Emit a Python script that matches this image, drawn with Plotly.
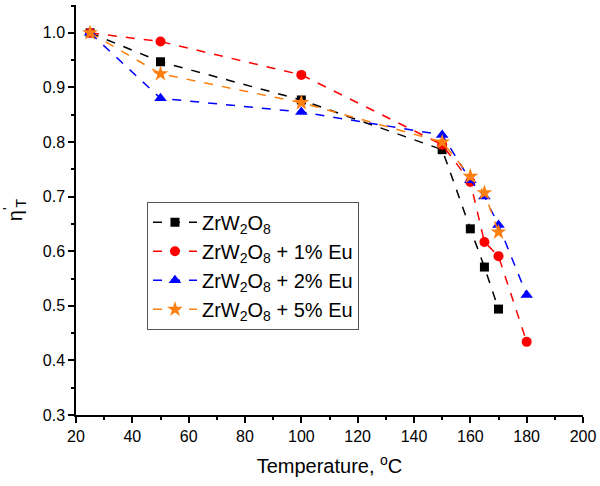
import plotly.graph_objects as go

temps_0 = [25, 50, 100, 150, 160, 165, 170]
eta_0 = [1.0, 0.947, 0.877, 0.786, 0.641, 0.571, 0.494]

temps_1 = [25, 50, 100, 150, 160, 165, 170, 180]
eta_1 = [1.0, 0.984, 0.923, 0.795, 0.727, 0.617, 0.591, 0.434]

temps_2 = [25, 50, 100, 150, 160, 165, 170, 180]
eta_2 = [1.0, 0.880, 0.855, 0.813, 0.730, 0.700, 0.648, 0.520]

temps_5 = [25, 50, 100, 150, 160, 165, 170]
eta_5 = [1.0, 0.925, 0.872, 0.800, 0.737, 0.707, 0.635]

names = ["ZrW<sub>2</sub>O<sub>8</sub>",
         "ZrW<sub>2</sub>O<sub>8</sub> + 1% Eu",
         "ZrW<sub>2</sub>O<sub>8</sub> + 2% Eu",
         "ZrW<sub>2</sub>O<sub>8</sub> + 5% Eu"]

series = [
    (temps_0, eta_0, "black", "square", 9),
    (temps_1, eta_1, "#ff0000", "circle", 10),
    (temps_2, eta_2, "#0000ff", "triangle-up", 11),
    (temps_5, eta_5, "#ff7f0e", "star", 12),
]

fig = go.Figure()
for (x, y, c, sym, sz), nm in zip(series, names):
    fig.add_trace(go.Scatter(
        x=x, y=y, name=nm, mode="lines+markers",
        line=dict(color=c, width=1.5, dash="dash"),
        marker=dict(color=c, symbol=sym, size=sz, line=dict(width=0)),
    ))

font = "Liberation Sans, Arial, sans-serif"
fig.update_layout(
    width=600, height=486,
    margin=dict(l=76, r=17, t=5, b=71),
    paper_bgcolor="white", plot_bgcolor="white",
    font=dict(family=font, color="black", size=16),
    showlegend=True,
    legend=dict(
        x=0.14, y=0.52, xanchor="left", yanchor="top",
        bordercolor="#555555", borderwidth=1, bgcolor="white",
        font=dict(size=20, family=font), tracegroupgap=0,
        itemwidth=44,
    ),
    xaxis=dict(
        range=[20, 200], tick0=20, dtick=20, automargin=False,
        showline=True, linecolor="black", linewidth=1.5,
        ticks="outside", ticklen=6, tickwidth=1.5, tickcolor="black",
        minor=dict(dtick=10, ticks="outside", ticklen=3, tickwidth=1.5, tickcolor="black"),
        showgrid=False, zeroline=False,
        title=dict(text="Temperature, <sup>o</sup>C", font=dict(size=20)),
        tickfont=dict(size=16),
    ),
    yaxis=dict(
        range=[0.3, 1.051], tick0=0.3, dtick=0.1, tickformat=".1f", automargin=False,
        showline=True, linecolor="black", linewidth=1.5,
        ticks="outside", ticklen=6, tickwidth=1.5, tickcolor="black",
        minor=dict(dtick=0.05, ticks="outside", ticklen=3, tickwidth=1.5, tickcolor="black"),
        showgrid=False, zeroline=False,
        title=dict(text="η<sup>'</sup><sub>T</sub>", font=dict(size=20)),
        tickfont=dict(size=16),
    ),
)

fig.write_html("out.html", config={"displayModeBar": False},
               post_script="document.body.style.margin='0';document.body.style.padding='0';")
